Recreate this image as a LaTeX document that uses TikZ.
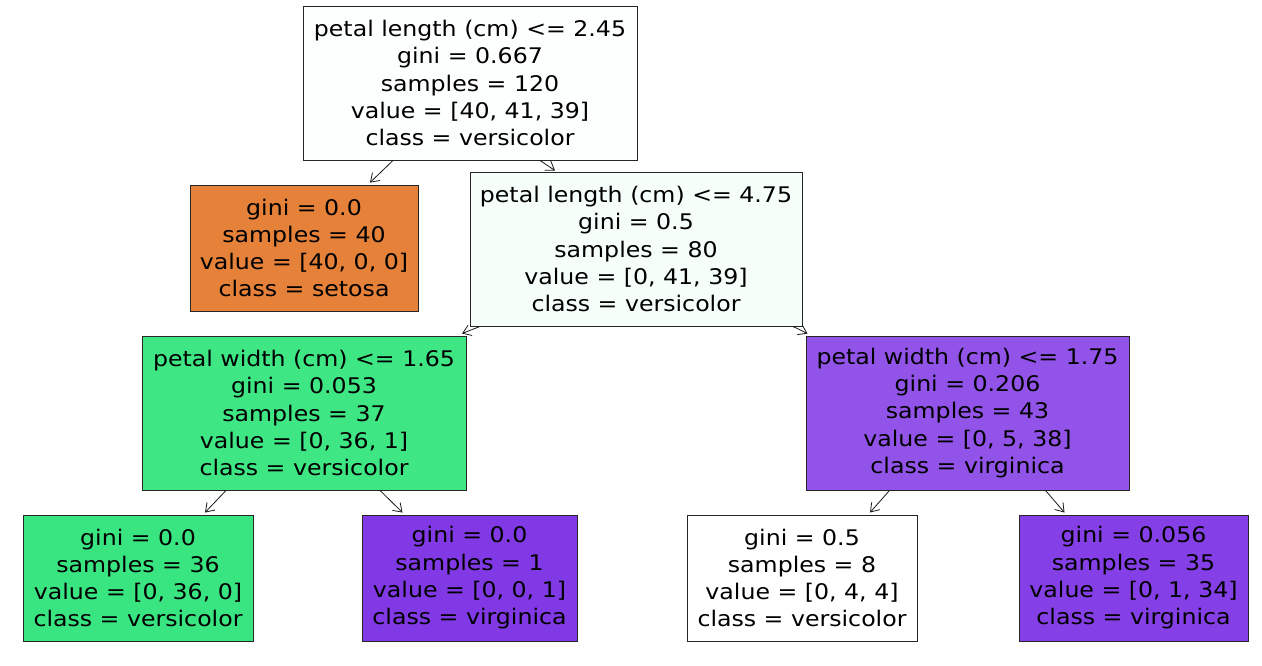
\documentclass[tikz,border=0pt]{standalone}
\usepackage{fontspec}
\setmainfont[FakeStretch=1.1]{DejaVu Sans}
\usetikzlibrary{arrows.meta}
\definecolor{cRoot}{HTML}{FDFFFE}
\definecolor{cNtwo}{HTML}{F5FEF9}
\definecolor{cSet}{HTML}{E58139}
\definecolor{cGreen}{HTML}{3FE684}
\definecolor{cGreenF}{HTML}{39E581}
\definecolor{cPurA}{HTML}{9253E8}
\definecolor{cPurF}{HTML}{8139E5}
\definecolor{cPurB}{HTML}{853FE6}
\tikzset{
  tnode/.style={draw=black!85, line width=0.9pt, align=center, inner sep=0pt,
    font=\fontsize{21.5pt}{27.3pt}\selectfont, text=black},
  arr/.style={-{Straight Barb[length=8pt,width=11pt,line width=0.8pt]}, line width=0.8pt, black!90}
}
\begin{document}
\begin{tikzpicture}[x=1pt,y=-1pt]
\useasboundingbox (0,0) rectangle (1262,665);
\fill[white] (0,0) rectangle (1262,665);
\node[tnode, fill=cRoot, minimum width=334pt, minimum height=154pt] (root) at (470,83)
  {petal length (cm) <= 2.45\\gini = 0.667\\samples = 120\\value = [40, 41, 39]\\class = versicolor};
\node[tnode, fill=cSet, minimum width=228pt, minimum height=126pt] (set) at (304,248)
  {gini = 0.0\\samples = 40\\value = [40, 0, 0]\\class = setosa};
\node[tnode, fill=cNtwo, minimum width=332pt, minimum height=154pt] (n2) at (636,249)
  {petal length (cm) <= 4.75\\gini = 0.5\\samples = 80\\value = [0, 41, 39]\\class = versicolor};
\node[tnode, fill=cGreen, minimum width=324pt, minimum height=154pt] (n3) at (304,413)
  {petal width (cm) <= 1.65\\gini = 0.053\\samples = 37\\value = [0, 36, 1]\\class = versicolor};
\node[tnode, fill=cPurA, minimum width=323pt, minimum height=154pt] (n4) at (967.5,413)
  {petal width (cm) <= 1.75\\gini = 0.206\\samples = 43\\value = [0, 5, 38]\\class = virginica};
\node[tnode, fill=cGreenF, minimum width=230pt, minimum height=126pt] (l1) at (138,578)
  {gini = 0.0\\samples = 36\\value = [0, 36, 0]\\class = versicolor};
\node[tnode, fill=cPurF, minimum width=215pt, minimum height=126pt] (l2) at (469.5,578)
  {gini = 0.0\\samples = 1\\value = [0, 0, 1]\\class = virginica};
\node[tnode, fill=white, minimum width=230pt, minimum height=126pt] (l3) at (802,578)
  {gini = 0.5\\samples = 8\\value = [0, 4, 4]\\class = versicolor};
\node[tnode, fill=cPurB, minimum width=229pt, minimum height=126pt] (l4) at (1133.5,578)
  {gini = 0.056\\samples = 35\\value = [0, 1, 34]\\class = virginica};
\draw[arr] ([xshift=-77pt]root.south) -- ([xshift=66pt,yshift=2pt]set.north);
\draw[arr] ([xshift=70pt]root.south) -- ([xshift=-81pt,yshift=1pt]n2.north);
\draw[arr] ([xshift=-156pt]n2.south) -- ([xshift=158pt,yshift=2pt]n3.north);
\draw[arr] ([xshift=157pt]n2.south) -- ([xshift=-160pt,yshift=2pt]n4.north);
\draw[arr] ([xshift=-78pt]n3.south) -- ([xshift=67pt,yshift=2pt]l1.north);
\draw[arr] ([xshift=76pt]n3.south) -- ([xshift=-67pt,yshift=2pt]l2.north);
\draw[arr] ([xshift=-78pt]n4.south) -- ([xshift=68pt,yshift=2pt]l3.north);
\draw[arr] ([xshift=78pt]n4.south) -- ([xshift=-69pt,yshift=2pt]l4.north);
\end{tikzpicture}
\end{document}
